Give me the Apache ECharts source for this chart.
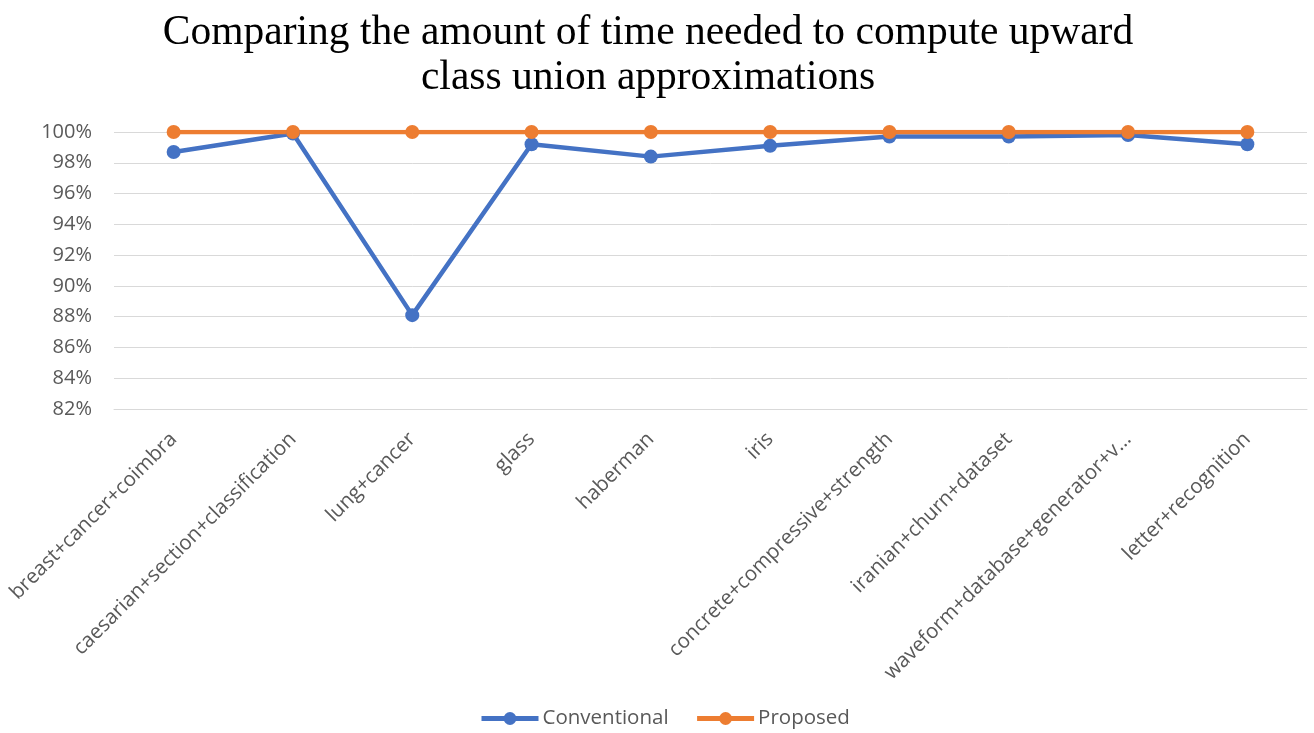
<!DOCTYPE html>
<html>
<head>
<meta charset="utf-8">
<script src="https://cdn.jsdelivr.net/npm/echarts@6/dist/echarts.min.js"></script>
<style>
  html, body { margin: 0; padding: 0; background: #fff; }
  #chart { width: 1314px; height: 733px; }
</style>
</head>
<body>
<div id="chart"></div>
<script>
// 数据集名称
var categories = [
  'breast+cancer+coimbra',
  'caesarian+section+classification',
  'lung+cancer',
  'glass',
  'haberman',
  'iris',
  'concrete+compressive+strength',
  'iranian+churn+dataset',
  'waveform+database+generator+v...',
  'letter+recognition'
];
// 百分比
var conventional = [98.7, 99.9, 88.1, 99.2, 98.4, 99.1, 99.7, 99.7, 99.8, 99.2];
var proposed = [100, 100, 100, 100, 100, 100, 100, 100, 100, 100];

var font = '"Open Sans", "Noto Sans", sans-serif';

var option = {
  backgroundColor: '#fff',
  title: {
    text: 'Comparing the amount of time needed to compute upward\nclass union approximations',
    left: 643,
    textAlign: 'center',
    top: 6,
    textStyle: {
      fontFamily: '"Liberation Serif", "Times New Roman", serif',
      fontWeight: 'normal',
      fontSize: 41.5,
      lineHeight: 45,
      color: '#000'
    }
  },
  legend: {
    bottom: -1,
    left: 474,
    itemWidth: 57,
    itemHeight: 16,
    itemGap: 26,
    lineStyle: { width: 5 },
    textStyle: { fontFamily: font, fontSize: 20.5, color: '#595959', padding: [0, 0, 0, -1] },
    data: ['Conventional', 'Proposed']
  },
  grid: {
    left: 114,
    right: 7,
    top: 132,
    bottom: 324
  },
  xAxis: {
    type: 'category',
    data: categories,
    boundaryGap: true,
    axisLine: { show: true, lineStyle: { color: '#d9d9d9' } },
    axisTick: { show: false },
    axisLabel: {
      rotate: 45,
      interval: 0,
      margin: 27,
      fontFamily: font,
      fontSize: 20.5,
      color: '#595959'
    }
  },
  yAxis: {
    type: 'value',
    min: 82,
    max: 100,
    interval: 2,
    axisLine: { show: false },
    axisTick: { show: false },
    splitLine: { lineStyle: { color: '#d9d9d9', width: 1 } },
    axisLabel: {
      formatter: '{value}%',
      margin: 22,
      fontFamily: font,
      fontSize: 20,
      color: '#595959'
    }
  },
  series: [{
    name: 'Conventional',
    type: 'line',
    data: conventional,
    symbol: 'circle',
    symbolSize: 14,
    lineStyle: { width: 4.5, color: '#4472C4' },
    itemStyle: { color: '#4472C4' }
  }, {
    name: 'Proposed',
    type: 'line',
    data: proposed,
    symbol: 'circle',
    symbolSize: 14,
    lineStyle: { width: 4.5, color: '#ED7D31' },
    itemStyle: { color: '#ED7D31' }
  }]
};

var myChart = echarts.init(document.getElementById('chart'));
myChart.setOption(option);
</script>
</body>
</html>
